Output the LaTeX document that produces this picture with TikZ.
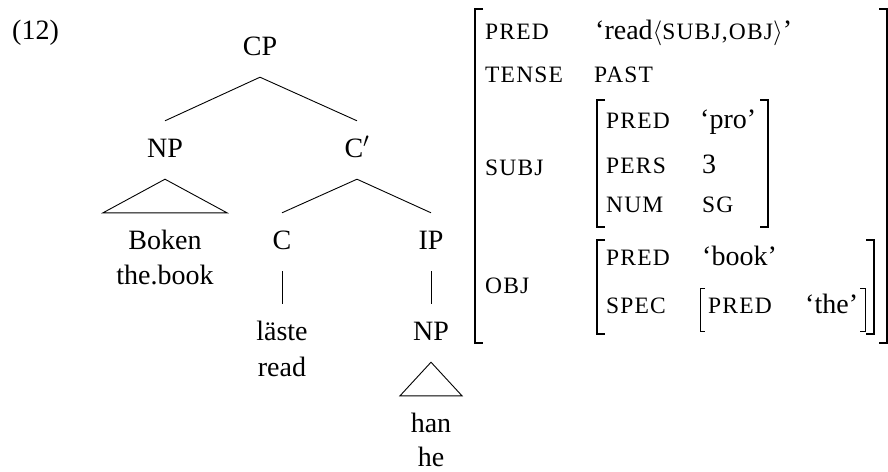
\documentclass[tikz,border=0pt]{standalone}
\usepackage{fontspec}
\setmainfont{Liberation Serif}
\newfontfamily\scfont[LetterSpace=5]{Liberation Serif}
\usetikzlibrary{calc}
\newcommand\fsc[1]{{\fontsize{23.5pt}{28pt}\scfont #1}}
\begin{document}
\begin{tikzpicture}[x=1pt,y=-1pt,
  font=\fontsize{28pt}{35pt}\selectfont,
  cat/.style={anchor=base, inner xsep=2pt, inner ysep=17pt, text height=19pt, text depth=5pt},
  word/.style={anchor=base, inner sep=0pt},
  feat/.style={anchor=base west, inner sep=0pt},
  edge/.style={line width=0.9pt},
  brA/.style={line width=1.7pt},
  brB/.style={line width=1.4pt},
  brC/.style={line width=1pt}]
\useasboundingbox (0,0) rectangle (888,471);
% example number
\node[word, anchor=base west] (ex) at (12,39) {(12)};
% tree
\node[cat] (cp) at (260,55) {CP};
\node[cat] (np) at (165,157) {NP};
\node[cat] (cbar) at (357,157) {C$'$};
\node[cat] (boken) at (165,249) {Boken};
\node[word] (thebook) at (165,284) {the.book};
\node[cat] (c) at (282,249) {C};
\node[cat] (ip) at (431,249) {IP};
\node[cat] (laste) at (282,340) {läste};
\node[word] (read) at (282,376) {read};
\node[cat] (np2) at (431,340) {NP};
\node[cat] (han) at (431,432) {han};
\node[word] (he) at (431,466) {he};
\draw[edge] (cp.south) -- (np.north);
\draw[edge] (cp.south) -- (cbar.north);
\draw[edge] (np.south) -- ($(boken.north)+(-62,0)$) -- ($(boken.north)+(62,0)$) -- cycle;
\draw[edge] (cbar.south) -- (c.north);
\draw[edge] (cbar.south) -- (ip.north);
\draw[edge] (c.south) -- (laste.north);
\draw[edge] (ip.south) -- (np2.north);
\draw[edge] (np2.south) -- ($(han.north)+(-31,0)$) -- ($(han.north)+(31,0)$) -- cycle;
% AVM
\node[feat] (f1) at (485,39) {\fsc{PRED}};
\node[feat] (v1) at (595,39) {‘read$\langle$\fsc{SUBJ,OBJ}$\rangle$’};
\node[feat] (f2) at (485,82) {\fsc{TENSE}};
\node[feat] (v2) at (594,82) {\fsc{PAST}};
\node[feat] (f3) at (485,175) {\fsc{SUBJ}};
\node[feat] (s1) at (606,128) {\fsc{PRED}};
\node[feat] (s1v) at (700,128) {‘pro’};
\node[feat] (s2) at (606,173) {\fsc{PERS}};
\node[feat] (s2v) at (702,173) {3};
\node[feat] (s3) at (606,212) {\fsc{NUM}};
\node[feat] (s3v) at (702,212) {\fsc{SG}};
\node[feat] (f4) at (485,293) {\fsc{OBJ}};
\node[feat] (o1) at (606,265) {\fsc{PRED}};
\node[feat] (o1v) at (702,265) {‘book’};
\node[feat] (o2) at (606,313) {\fsc{SPEC}};
\node[feat] (p1) at (708,313) {\fsc{PRED}};
\node[feat] (p1v) at (805,313) {‘the’};
% brackets
\draw[brA] (483,9) -- (475,9) -- (475,343) -- (483,343);
\draw[brA] (879,9) -- (887,9) -- (887,343) -- (879,343);
\draw[brB] (605,100) -- (597,100) -- (597,227) -- (605,227);
\draw[brB] (760,100) -- (768,100) -- (768,227) -- (760,227);
\draw[brB] (605,240) -- (597,240) -- (597,334) -- (605,334);
\draw[brB] (866,240) -- (874,240) -- (874,334) -- (866,334);
\draw[brC] (705,288) -- (700,288) -- (700,331) -- (705,331);
\draw[brC] (860,288) -- (865,288) -- (865,331) -- (860,331);
\end{tikzpicture}
\end{document}
